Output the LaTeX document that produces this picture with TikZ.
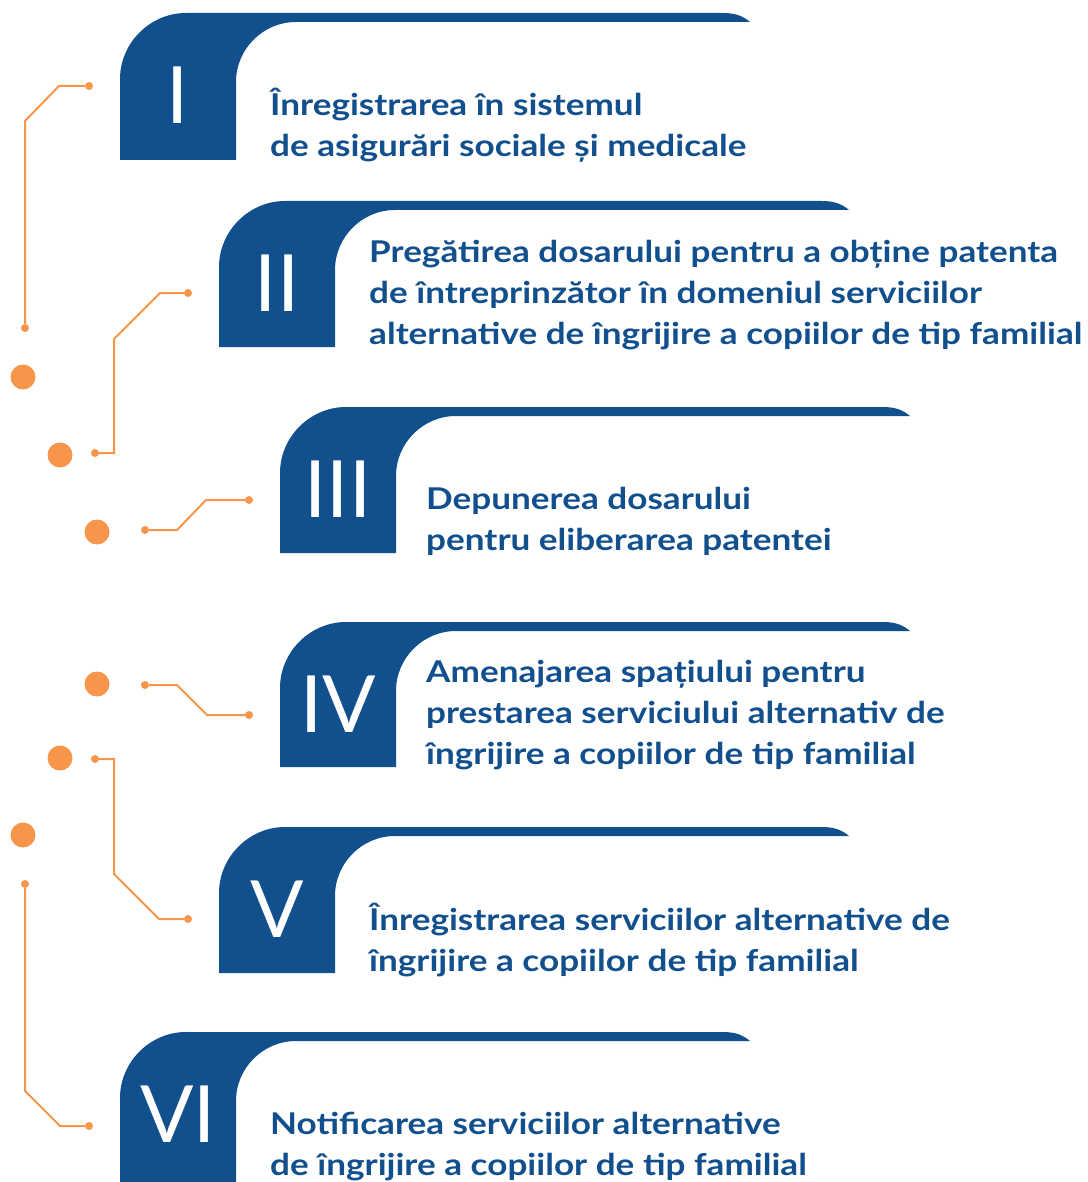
\documentclass[tikz,border=0pt]{standalone}
\usepackage{fontspec}
\setmainfont{Lato}
\newfontfamily\widefont{Lato}[FakeStretch=1.17]
\usetikzlibrary{positioning}
\definecolor{stepblue}{HTML}{114F8D}
\definecolor{dotorange}{HTML}{F7964A}

% blue tab of one step: left, top, bottom, end of band
\newcommand{\steptab}[4]{%
  \fill[stepblue] (#1,#3) -- (#1,#2+66) .. controls (#1,#2+30) and (#1+30,#2) .. (#1+66,#2)
    -- (#4-27,#2) .. controls (#4-13,#2) and (#4-6,#2+4) .. (#4,#2+9)
    -- (#1+176,#2+9) .. controls (#1+143,#2+9) and (#1+116,#2+36) .. (#1+116,#2+69)
    -- (#1+116,#3) -- cycle;}

\tikzset{
  tabnum/.style={text=white, inner sep=0, font=\fontsize{79}{79}\selectfont},
  steptext/.style={text=stepblue, inner sep=0, anchor=base west, align=left,
    font=\widefont\bfseries\fontsize{30}{41}\selectfont},
  smalldot/.style={circle, fill=dotorange, inner sep=0, minimum size=8pt},
  bigdot/.style={circle, fill=dotorange, inner sep=0, minimum size=25pt},
  wire/.style={draw=dotorange, line width=2pt},
}

\begin{document}
\begin{tikzpicture}[x=1pt, y=-1pt]
	\useasboundingbox (0,0) rectangle (1087,1182);
	% Tabs
	\steptab{120}{13}{160}{750}
	\steptab{219}{201}{347}{849}
	\steptab{280}{407}{553}{910}
	\steptab{280}{622}{767}{910}
	\steptab{219}{827}{973}{849}
	\steptab{120}{1032}{1200}{750}
	% Numbers
	\node[tabnum] (n1) at (178,95) {I};
	\node[tabnum] (n2) at (277,283) {II};
	\node[tabnum] (n3) at (338,489) {III};
	\node[tabnum] (n4) at (338,704) {IV};
	\node[tabnum] (n5) at (277,909) {V};
	\node[tabnum] (n6) at (178,1114) {VI};
	% Texts (anchored on the last line)
	\node[steptext] (t1) at (270,157) {Înregistrarea în sistemul\\de asigurări sociale și medicale};
	\node[steptext] (t2) at (369,344) {Pregătirea dosarului pentru a obține patenta\\de întreprinzător în domeniul serviciilor\\alternative de îngrijire a copiilor de tip familial};
	\node[steptext] (t3) at (426,550) {Depunerea dosarului\\pentru eliberarea patentei};
	\node[steptext] (t4) at (426,764) {Amenajarea spațiului pentru\\prestarea serviciului alternativ de\\îngrijire a copiilor de tip familial};
	\node[steptext] (t5) at (369,971) {Înregistrarea serviciilor alternative de\\îngrijire a copiilor de tip familial};
	\node[steptext] (t6) at (270,1175) {Notificarea serviciilor alternative\\de îngrijire a copiilor de tip familial};
	% Dots
	\node[bigdot] (b1) at (23,377) {};
	\node[bigdot] (b2) at (60,455) {};
	\node[bigdot] (b3) at (97,532) {};
	\node[bigdot] (b4) at (97,684) {};
	\node[bigdot] (b5) at (60,758) {};
	\node[bigdot] (b6) at (23,835) {};
	\node[smalldot] (s1a) at (89,86) {};
	\node[smalldot] (s1b) at (25,328) {};
	\node[smalldot] (s2a) at (188,293) {};
	\node[smalldot] (s2b) at (95,453) {};
	\node[smalldot] (s3a) at (249,500) {};
	\node[smalldot] (s3b) at (145,530) {};
	\node[smalldot] (s4a) at (249,715) {};
	\node[smalldot] (s4b) at (145,685) {};
	\node[smalldot] (s5a) at (188,919) {};
	\node[smalldot] (s5b) at (95,759) {};
	\node[smalldot] (s6a) at (89,1126) {};
	\node[smalldot] (s6b) at (25,884) {};
	% Connect the dots
	\draw[wire] (s1a) -- ++(-30,0) -- ++(-34,35) -- (s1b);
	\draw[wire] (s2a) -- ++(-28,0) -- ++(-46,46) |- (s2b);
	\draw[wire] (s3a) -- ++(-43,0) -- ++(-29,30) -- (s3b);
	\draw[wire] (s4a) -- ++(-42,0) -- ++(-30,-30) -- (s4b);
	\draw[wire] (s5a) -- ++(-29,0) -- ++(-45,-45) |- (s5b);
	\draw[wire] (s6a) -- ++(-29,0) -- ++(-35,-35) -- (s6b);
\end{tikzpicture}
\end{document}
